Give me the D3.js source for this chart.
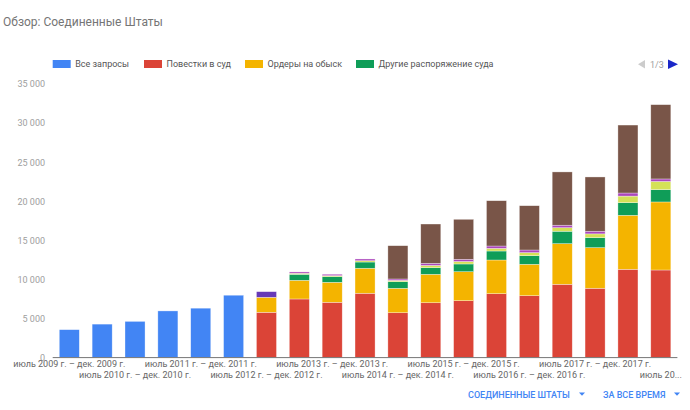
<!DOCTYPE html>
<html><head><meta charset="utf-8">
<script src="https://cdn.jsdelivr.net/npm/d3@7/dist/d3.min.js"></script>
<style>body{margin:0;background:#fff;font-family:Roboto,"Noto Sans",sans-serif;}</style>
</head><body><svg id="c" width="690" height="410"></svg>
<script>
const periods = [
 "июль 2009 г. – дек. 2009 г.","янв. 2010 г. – июнь 2010 г.","июль 2010 г. – дек. 2010 г.",
 "янв. 2011 г. – июнь 2011 г.","июль 2011 г. – дек. 2011 г.","янв. 2012 г. – июнь 2012 г.",
 "июль 2012 г. – дек. 2012 г.","янв. 2013 г. – июнь 2013 г.","июль 2013 г. – дек. 2013 г.",
 "янв. 2014 г. – июнь 2014 г.","июль 2014 г. – дек. 2014 г.","янв. 2015 г. – июнь 2015 г.",
 "июль 2015 г. – дек. 2015 г.","янв. 2016 г. – июнь 2016 г.","июль 2016 г. – дек. 2016 г.",
 "янв. 2017 г. – июнь 2017 г.","июль 2017 г. – дек. 2017 г.","янв. 2018 г. – июнь 2018 г.",
 "июль 2018 г. – дек. 2018 г."];
const allRequests    = [3550,4260,4610,5950,6300,7960,0,0,0,0,0,0,0,0,0,0,0,0,0];
const subpoenas      = [0,0,0,0,0,0,5775,7480,7055,8210,5720,7000,7260,8155,7900,9360,8850,11280,11190];
const searchWarrants = [0,0,0,0,0,0,1920,2390,2560,3200,3125,3640,3710,4315,4020,5200,5200,6910,8710];
const otherOrders    = [0,0,0,0,0,0,0,770,720,800,845,845,990,1150,1100,1590,1280,1615,1575];
const penRegister    = [0,0,0,0,0,0,0,130,130,170,170,290,320,340,395,455,485,845,1050];
const emergency      = [0,0,0,0,0,0,0,170,180,220,180,270,280,300,335,315,335,395,320];
const otherRequests  = [0,0,0,0,0,0,720,0,0,0,0,0,0,0,0,0,0,0,0];
const preservation   = [0,0,0,0,0,0,0,0,0,0,4260,5030,5120,5800,5670,6825,6950,8700,9510];
const seriesNames = ["Все запросы","Повестки в суд","Ордеры на обыск","Другие распоряжение суда",
  "Распоряжения о регистрации","Экстренные запросы","Другие запросы","Запросы на сохранение данных"];
const seriesValues = [allRequests,subpoenas,searchWarrants,otherOrders,penRegister,emergency,otherRequests,preservation];
const seriesColors = ["#4285f4","#db4437","#f4b400","#0f9d58","#d4e157","#ab47bc","#673ab7","#795548"];
const yTicks = [0,5000,10000,15000,20000,25000,30000,35000];

const svg = d3.select("#c");
const rows = periods.map((p,i)=>{const o={period:p}; seriesNames.forEach((s,j)=>o[s]=seriesValues[j][i]); return o;});
const stack = d3.stack().keys(seriesNames)(rows);

const x = d3.scaleBand().domain(periods).range([52.7,677.4]).paddingInner(0.39).paddingOuter(0.2);
const y = d3.scaleLinear().domain([0,35000]).range([357.4,84]);
const color = d3.scaleOrdinal().domain(seriesNames).range(seriesColors);

// title
svg.append("text").attr("x",3).attr("y",26).attr("font-size",12).attr("fill","#757575").text("Обзор: Соединенные Штаты");

// legend (page 1 of 3)
const legX = [52.7,144,245,356];
seriesNames.slice(0,4).forEach((s,i)=>{
  svg.append("rect").attr("x",legX[i]).attr("y",60).attr("width",18).attr("height",8).attr("fill",color(s));
  svg.append("text").attr("x",legX[i]+22.5).attr("y",67.3).attr("font-size",9).attr("fill","#555").text(s);
});
svg.append("path").attr("d","M645,60 L645,68.5 L638,64.25 Z").attr("fill","#ccc");
svg.append("text").attr("x",650).attr("y",67.5).attr("font-size",9).attr("fill","#9e9e9e").text("1/3");
svg.append("path").attr("d","M668,59.5 L668,69 L678,64.25 Z").attr("fill","#1a27c8");

// y axis labels
const yAxis = d3.axisLeft(y).tickValues(yTicks).tickSize(0).tickPadding(0)
  .tickFormat(d=>d3.format(",")(d).replace(/,/g," "));
const ya = svg.append("g").attr("transform","translate(45,0)").call(yAxis);
ya.select(".domain").remove();
ya.selectAll("text").attr("font-size",9).attr("fill","#9e9e9e").attr("font-family","Roboto");

// bars
svg.append("g").selectAll("g").data(stack).join("g").attr("fill",d=>color(d.key))
  .selectAll("rect").data(d=>d).join("rect")
  .attr("x",d=>x(d.data.period)).attr("width",x.bandwidth())
  .attr("y",d=>y(d[1])).attr("height",d=>Math.max(0,y(d[0])-y(d[1])))
  .attr("stroke","rgba(255,255,255,0.55)").attr("stroke-width",d=>(d[1]-d[0])>0?0.6:0);

// baseline
svg.append("line").attr("x1",52.7).attr("x2",677.4).attr("y1",357.6).attr("y2",357.6).attr("stroke","#757575").attr("stroke-width",1);

// x labels (every other period, two rows)
const xAxis = d3.axisBottom(x).tickValues(periods.filter((p,i)=>i%2===0)).tickSize(0).tickPadding(0);
const xa = svg.append("g").attr("transform","translate(0,357)").call(xAxis);
xa.select(".domain").remove();
xa.selectAll("text").attr("font-size",9).attr("fill","#666").attr("font-family","Roboto")
  .attr("dy",null).attr("y",(d)=>periods.indexOf(d)%4===0?10:20.5)
  .each(function(d){
    const el=d3.select(this); const cx=x(d)+x.bandwidth()/2; const maxW=2*(683-cx);
    let t=d; if(this.getComputedTextLength()>maxW){
      while(t.length>1){t=t.slice(0,-1); el.text(t.trimEnd()+"..."); if(this.getComputedTextLength()<=maxW)break;}
    }
  });

// bottom controls
const ctl = [{t:"СОЕДИНЕННЫЕ ШТАТЫ",x:468,a:579},{t:"ЗА ВСЕ ВРЕМЯ",x:603,a:674}];
ctl.forEach(c=>{
  svg.append("text").attr("x",c.x).attr("y",398).attr("font-size",9).attr("font-weight",500).attr("fill","#4285f4").text(c.t);
  svg.append("path").attr("d",`M${c.a},392.5 L${c.a+6},392.5 L${c.a+3},395.8 Z`).attr("fill","#4285f4");
});
</script></body></html>
